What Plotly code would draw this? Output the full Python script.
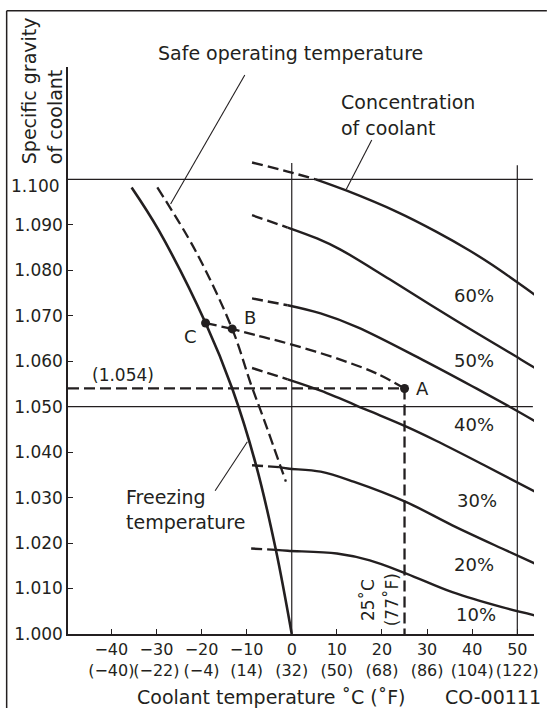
import plotly.graph_objects as go

# ---------------- data ----------------
# concentration isolines: temperature (deg C) and specific gravity
t_60 = [-8.8, -0.9, 5.3, 12.2, 23.2, 32.0, 39.3, 44.4, 53.9]
sg_60 = [1.1037, 1.1017, 1.1000, 1.0975, 1.0929, 1.0885, 1.0844, 1.0812, 1.0746]
t_50 = [-8.8, -0.9, 5.6, 10.7, 21.7, 36.3, 50.6, 53.9]
sg_50 = [1.0921, 1.0894, 1.0870, 1.0846, 1.0780, 1.0690, 1.0605, 1.0585]
t_40 = [-8.8, -0.9, 6.4, 14.5, 29.0, 40.0, 48.8, 53.9]
sg_40 = [1.0738, 1.0723, 1.0705, 1.0675, 1.0603, 1.0545, 1.0497, 1.0468]
t_30 = [-8.8, -0.9, 6.4, 17.3, 25.4, 32.0, 42.9, 53.9]
sg_30 = [1.0585, 1.0560, 1.0535, 1.0490, 1.0456, 1.0425, 1.0370, 1.0313]
t_20 = [-8.8, -2.8, -0.9, 6.4, 13.7, 25.4, 35.6, 46.6, 53.9]
sg_20 = [1.0371, 1.0367, 1.0364, 1.0357, 1.0335, 1.0290, 1.0239, 1.0188, 1.0155]
t_10 = [-9.0, -3.5, -0.9, 10.0, 17.3, 25.4, 35.6, 46.6, 53.9]
sg_10 = [1.0188, 1.0185, 1.0183, 1.0177, 1.0162, 1.0133, 1.0092, 1.0059, 1.0041]
# index of the last point of the dashed (left) part of each isoline
split_60, split_50, split_40, split_30, split_20, split_10 = 2, 1, 1, 1, 1, 1
conc_labels = ["60%", "50%", "40%", "30%", "20%", "10%"]

# freezing temperature curve
t_freeze = [-35.5, -29.5, -19.1, -13.2, -7.9, -3.5, 0.0]
sg_freeze = [1.0982, 1.0888, 1.0684, 1.0540, 1.0371, 1.0184, 1.0000]
# safe operating temperature curve
t_safe = [-29.8, -21.4, -13.2, -9.0, -6.1, -1.3]
sg_safe = [1.0982, 1.0844, 1.0671, 1.0548, 1.0470, 1.0335]

# example reading: A -> B along the isoline, B -> C
t_ab = [25.0, 18.8, 10.0, -0.9, -7.5, -13.2]
sg_ab = [1.0540, 1.0573, 1.0606, 1.0639, 1.0656, 1.0671]
t_bc = [-13.2, -19.1]
sg_bc = [1.0671, 1.0684]
point_names = ["A", "B", "C"]
point_t = [25.0, -13.2, -19.1]
point_sg = [1.0540, 1.0671, 1.0684]

# reference lines
grid_sg = [1.100, 1.050]
grid_t = [0, 50]

# axes
x_ticks = [-40, -30, -20, -10, 0, 10, 20, 30, 40, 50]
x_ticks_f = ["(−40)", "(−22)", "(−4)", "(14)", "(32)", "(50)", "(68)", "(86)", "(104)", "(122)"]
y_ticks = [1.000, 1.010, 1.020, 1.030, 1.040, 1.050, 1.060, 1.070, 1.080, 1.090]
x_range = [-49.6, 53.7]
y_range = [1.000, 1.1247]

# ---------------- figure ----------------
DARK = "#231f20"
FONT = "DejaVu Sans"
W, H = 549, 708
ML, MR, MT, MB = 68, 10, 67, 74


def xp(px):
    return (px - ML) / (W - ML - MR)


def yp(py):
    return (H - MB - py) / (H - MT - MB)


fig = go.Figure()


def line(t, s, dash="solid", width=2.4, shape="spline"):
    fig.add_trace(go.Scatter(
        x=t, y=s, mode="lines",
        line=dict(color=DARK, width=width, dash=dash, shape=shape, smoothing=1.0),
        hoverinfo="skip", showlegend=False))


DASH = "11px,5px"
curves = [(t_60, sg_60, split_60), (t_50, sg_50, split_50), (t_40, sg_40, split_40),
          (t_30, sg_30, split_30), (t_20, sg_20, split_20), (t_10, sg_10, split_10)]
for t, s, k in curves:
    line(t[:k + 1], s[:k + 1], dash=DASH, width=2.4)
    line(t[k:], s[k:], width=2.4)

line(t_freeze, sg_freeze, width=2.6)
line(t_safe, sg_safe, dash=DASH, width=2.3)
line(t_ab, sg_ab, dash=DASH, width=2.3)
line(t_bc, sg_bc, dash=DASH, width=2.3, shape="linear")
# horizontal and vertical reading lines through A
line([x_range[0], point_t[0]], [point_sg[0], point_sg[0]], dash=DASH, width=2.3, shape="linear")
line([point_t[0], point_t[0]], [point_sg[0], y_range[0]], dash=DASH, width=2.3, shape="linear")

fig.add_trace(go.Scatter(x=point_t, y=point_sg, mode="markers",
                         marker=dict(color=DARK, size=9), hoverinfo="skip", showlegend=False))

shapes = []
for g in grid_sg:
    shapes.append(dict(type="line", xref="x", yref="y", x0=x_range[0], x1=53.45, y0=g, y1=g,
                       line=dict(color=DARK, width=1.2)))
grid_top = [1.1036, 1.1031]
for g, top in zip(grid_t, grid_top):
    shapes.append(dict(type="line", xref="x", yref="y", x0=g, x1=g, y0=y_range[0], y1=top,
                       line=dict(color=DARK, width=1.2)))
# frame of the drawing (left and top edges)
shapes.append(dict(type="line", xref="paper", yref="paper", x0=xp(6), x1=xp(6), y0=yp(710), y1=yp(10.7),
                   line=dict(color=DARK, width=1.5)))
shapes.append(dict(type="line", xref="paper", yref="paper", x0=xp(6), x1=xp(552), y0=yp(10.7), y1=yp(10.7),
                   line=dict(color=DARK, width=1.5)))
# leader lines
leaders = [((246.7, 75), (171.7, 204)), ((375, 140), (349.3, 189.3)), ((216.7, 490.7), (249.3, 441.7))]
for (a, b) in leaders:
    shapes.append(dict(type="line", xref="paper", yref="paper", x0=xp(a[0]), y0=yp(a[1]),
                       x1=xp(b[0]), y1=yp(b[1]), line=dict(color=DARK, width=1.1)))

ann = []


def text(s, px, py, size=19, xa="center", ya="middle", angle=0):
    ann.append(dict(text=s, x=xp(px), y=yp(py), xref="paper", yref="paper", showarrow=False,
                    xanchor=xa, yanchor=ya, textangle=angle,
                    font=dict(family=FONT, size=size, color=DARK)))


text("Safe operating temperature", 293, 53)
text("Concentration", 342, 101.7, xa="left")
text("of coolant", 342, 128.3, xa="left")
text("Freezing", 125, 497.3, xa="left")
text("temperature", 125, 522.3, xa="left")
text("(1.054)", 124, 375, size=17)
text("Specific gravity", 28.3, 166, ya="bottom", angle=-90)
text("of coolant", 55, 166, ya="bottom", angle=-90)
text("25˚C", 370.8, 600.5, size=17, angle=-90)
text("(77˚F)", 395.8, 600, size=17, angle=-90)
text("Coolant temperature ˚C (˚F)", 273.5, 697)
text("CO-00111", 498, 697)
text("1.100", 62, 186, size=17, xa="right")
for name, (px, py) in zip(point_names, [(426.7, 388.3), (251.7, 317.3), (191.7, 336)]):
    text(name, px, py, size=18)
for lab, (px, py) in zip(conc_labels, [(478.3, 295), (478.3, 360.7), (478.3, 424),
                                        (481.7, 500.7), (478.3, 564), (480, 614)]):
    text(lab, px, py, size=18)

axis_common = dict(showline=True, linecolor=DARK, linewidth=1.5, ticks="inside", ticklen=5,
                   tickwidth=1.2, tickcolor=DARK, showgrid=False, zeroline=False, tickangle=0)

fig.update_layout(
    width=W, height=H,
    margin=dict(l=ML, r=MR, t=MT, b=MB, pad=0),
    paper_bgcolor="white", plot_bgcolor="white",
    xaxis=dict(range=x_range, tickvals=x_ticks,
               ticktext=[("−%d" % -v if v < 0 else "%d" % v) + "<br>" + f for v, f in zip(x_ticks, x_ticks_f)],
               tickfont=dict(family=FONT, size=16, color=DARK),
               **axis_common),
    yaxis=dict(range=y_range, tickvals=y_ticks, ticktext=["%.3f" % v for v in y_ticks],
               tickfont=dict(family=FONT, size=17, color=DARK),
               **axis_common),
    shapes=shapes, annotations=ann, showlegend=False,
)

fig.write_html("out.html", config={"displayModeBar": False},
               post_script="document.body.style.margin='0';")
